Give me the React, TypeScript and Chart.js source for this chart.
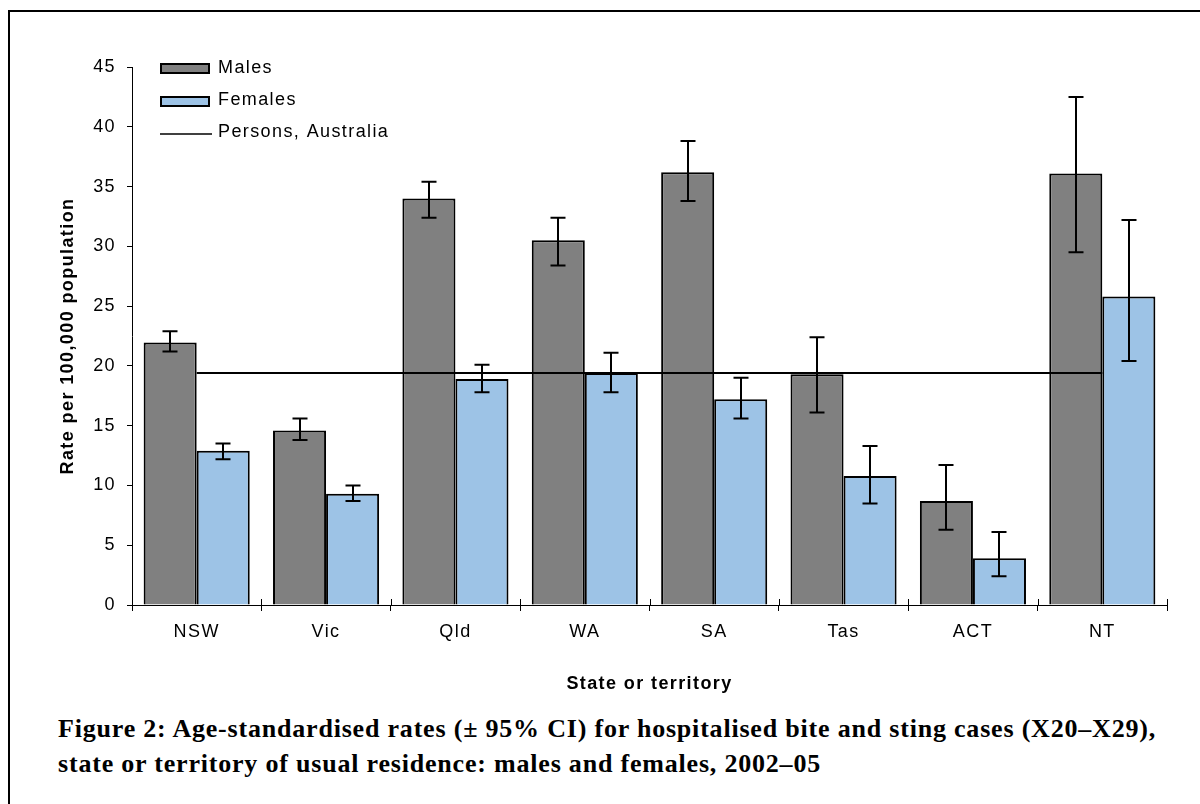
import React, { useEffect, useRef } from "react";
import { Chart, registerables } from "chart.js";

Chart.register(...registerables);

const categories = ["NSW", "Vic", "Qld", "WA", "SA", "Tas", "ACT", "NT"];
const males = [21.95, 14.6, 34.0, 30.5, 36.2, 19.3, 8.7, 36.1];
const malesLow = [21.2, 13.8, 32.4, 28.4, 33.8, 16.1, 6.3, 29.5];
const malesHigh = [22.9, 15.6, 35.4, 32.4, 38.8, 22.4, 11.7, 42.5];
const females = [12.9, 9.3, 18.9, 19.4, 17.2, 10.8, 3.9, 25.8];
const femalesLow = [12.2, 8.7, 17.8, 17.8, 15.6, 8.5, 2.4, 20.4];
const femalesHigh = [13.5, 10.0, 20.1, 21.1, 19.0, 13.3, 6.1, 32.2];
const personsAustralia = 19.4;
const yMin = 0;
const yMax = 45;
const yStep = 5;

const legendLabels = ["Males", "Females", "Persons, Australia"];
const captionLines = [
  "Figure 2: Age-standardised rates (± 95% CI) for hospitalised bite and sting cases (X20–X29),",
  "state or territory of usual residence: males and females, 2002–05",
];

const MALE_COLOR = "#808080";
const FEMALE_COLOR = "#9DC3E6";
const FONT = '"Liberation Sans", Arial, sans-serif';
const SPACING = "1.4px";

const spacingPlugin = {
  id: "spacing",
  beforeLayout(chart: any) {
    chart.ctx.letterSpacing = SPACING;
  },
  beforeDraw(chart: any) {
    chart.ctx.letterSpacing = SPACING;
  },
};

const errorBarsPlugin = {
  id: "errorBars",
  afterDatasetsDraw(chart: any) {
    const ctx = chart.ctx;
    const y = chart.scales.y;
    const sets: [number, number[], number[]][] = [
      [1, malesLow, malesHigh],
      [2, femalesLow, femalesHigh],
    ];
    ctx.save();
    ctx.strokeStyle = "#000";
    ctx.lineWidth = 2;
    sets.forEach(([idx, lo, hi]) => {
      const meta = chart.getDatasetMeta(idx);
      meta.data.forEach((bar: any, i: number) => {
        const x = Math.round(bar.x);
        const yl = y.getPixelForValue(lo[i]);
        const yh = y.getPixelForValue(hi[i]);
        ctx.beginPath();
        ctx.moveTo(x, yl);
        ctx.lineTo(x, yh);
        ctx.moveTo(x - 7.5, yl);
        ctx.lineTo(x + 7.5, yl);
        ctx.moveTo(x - 7.5, yh);
        ctx.lineTo(x + 7.5, yh);
        ctx.stroke();
      });
    });
    ctx.restore();
  },
};

const extrasPlugin = {
  id: "extras",
  afterDraw(chart: any) {
    const ctx = chart.ctx;
    const ca = chart.chartArea;
    const xs = chart.scales.x;
    ctx.save();
    ctx.strokeStyle = "#000";
    ctx.lineWidth = 1;
    const n = categories.length;
    for (let i = 1; i <= n; i++) {
      const x = Math.round(xs.left + (i * (xs.right - xs.left)) / n) + 0.5;
      ctx.beginPath();
      ctx.moveTo(x, ca.bottom - 6);
      ctx.lineTo(x, ca.bottom);
      ctx.stroke();
    }
    const lx = ca.left + 28;
    const colors = [MALE_COLOR, FEMALE_COLOR];
    const swatchTops = [ca.top - 4, ca.top + 29];
    colors.forEach((c, i) => {
      ctx.fillStyle = c;
      ctx.fillRect(lx, swatchTops[i], 50, 11);
      ctx.strokeStyle = "#000";
      ctx.lineWidth = 2;
      ctx.strokeRect(lx + 1, swatchTops[i] + 1, 48, 9);
    });
    ctx.beginPath();
    ctx.strokeStyle = "#000";
    ctx.lineWidth = 1.5;
    ctx.moveTo(lx, ca.top + 67);
    ctx.lineTo(lx + 52, ca.top + 67);
    ctx.stroke();
    ctx.fillStyle = "#000";
    ctx.font = `18px ${FONT}`;
    ctx.letterSpacing = SPACING;
    ctx.textBaseline = "middle";
    ctx.textAlign = "left";
    const textYs = [ca.top + 1, ca.top + 33, ca.top + 65];
    legendLabels.forEach((t, i) => ctx.fillText(t, lx + 58, textYs[i]));
    ctx.restore();
  },
};

export default function App() {
  const ref = useRef<HTMLCanvasElement | null>(null);

  useEffect(() => {
    if (!ref.current) return;
    const chart = new Chart(ref.current, {
      type: "bar",
      data: {
        labels: categories,
        datasets: [
          {
            type: "line",
            label: legendLabels[2],
            data: categories.map(() => personsAustralia),
            borderColor: "#000",
            borderWidth: 2,
            pointRadius: 0,
            fill: false,
            order: 0,
          } as any,
          {
            label: legendLabels[0],
            data: males,
            backgroundColor: MALE_COLOR,
            borderColor: "#000",
            borderWidth: 2,
            categoryPercentage: 0.82,
            barPercentage: 1.0,
            order: 1,
          },
          {
            label: legendLabels[1],
            data: females,
            backgroundColor: FEMALE_COLOR,
            borderColor: "#000",
            borderWidth: 2,
            categoryPercentage: 0.82,
            barPercentage: 1.0,
            order: 1,
          },
        ],
      },
      options: {
        responsive: false,
        animation: false,
        devicePixelRatio: 1,
        layout: { padding: { left: 0, top: 55, right: 23, bottom: 7 } },
        plugins: {
          legend: { display: false },
          tooltip: { enabled: false },
        },
        scales: {
          x: {
            afterFit: (s: any) => {
              s.height = 100;
            },
            grid: {
              drawOnChartArea: false,
              tickLength: 6,
              color: "#000",
              offset: true,
            },
            border: { color: "#000", width: 1 },
            ticks: {
              color: "#000",
              font: { family: FONT, size: 18 },
              padding: 10,
            },
            title: {
              display: true,
              text: "State or territory",
              color: "#000",
              font: { family: FONT, size: 18, weight: "bold" },
              padding: { top: 0, bottom: 10 },
            },
          },
          y: {
            min: yMin,
            max: yMax,
            afterFit: (s: any) => {
              s.width = 122;
            },
            grid: {
              drawOnChartArea: false,
              tickLength: 5,
              color: "#000",
            },
            border: { color: "#000", width: 1 },
            ticks: {
              stepSize: yStep,
              color: "#000",
              font: { family: FONT, size: 18 },
              padding: 11,
            },
            title: {
              display: true,
              text: "Rate per 100,000 population",
              color: "#000",
              font: { family: FONT, size: 18, weight: "bold" },
              padding: { top: 47, bottom: 0 },
            },
          },
        },
      },
      plugins: [spacingPlugin, errorBarsPlugin, extrasPlugin],
    });
    return () => chart.destroy();
  }, []);

  return (
    <div
      style={{
        position: "fixed",
        left: 0,
        top: 0,
        width: 1200,
        height: 804,
        overflow: "hidden",
        background: "#fff",
      }}
    >
      <div
        style={{
          position: "absolute",
          left: 8,
          top: 10,
          width: 1220,
          height: 820,
          border: "2px solid #000",
          boxSizing: "border-box",
        }}
      />
      <canvas
        ref={ref}
        width={1180}
        height={700}
        style={{ position: "absolute", left: 10, top: 12, width: 1180, height: 700 }}
      />
      <div
        style={{
          position: "absolute",
          left: 58,
          top: 712,
          fontFamily: '"Liberation Serif", "Times New Roman", serif',
          fontWeight: "bold",
          fontSize: 26,
          letterSpacing: "0.8px",
          lineHeight: "34.5px",
          color: "#000",
          whiteSpace: "nowrap",
        }}
      >
        {captionLines[0]}
        <br />
        {captionLines[1]}
      </div>
    </div>
  );
}
